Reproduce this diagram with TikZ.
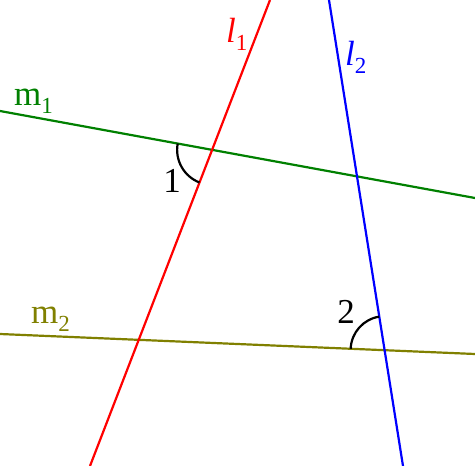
\documentclass[tikz,border=0pt]{standalone}
\usepackage{fontspec}
\setmainfont{Liberation Serif}
\usetikzlibrary{intersections}
\definecolor{mgreen}{RGB}{0,128,0}
\definecolor{molive}{RGB}{128,128,0}
\tikzset{
  ln/.style={line width=2.2pt},
  ang/.style={line width=2.2pt, black},
  lbl/.style={inner sep=0pt, anchor=base west, font=\fontsize{35}{38}\selectfont},
  num/.style={inner sep=0pt, anchor=base, font=\fontsize{35}{38}\selectfont},
}
\newcommand{\sbs}[1]{\raisebox{-8pt}{\fontsize{23}{25}\selectfont #1}}
\begin{document}
\begin{tikzpicture}[x=1pt,y=-1pt]
\useasboundingbox (0,0) rectangle (475,466);
\coordinate (l1a) at (270,0);
\coordinate (l1b) at (90,466);
\coordinate (l2a) at (329,0);
\coordinate (l2b) at (403,466);
\coordinate (m1a) at (0,111);
\coordinate (m1b) at (475,198);
\coordinate (m2a) at (0,334);
\coordinate (m2b) at (475,354);
\draw[ln, mgreen, name path=m1] (m1a) -- (m1b);
\draw[ln, molive, name path=m2] (m2a) -- (m2b);
\draw[ln, red, name path=l1] (l1a) -- (l1b);
\draw[ln, blue, name path=l2] (l2a) -- (l2b);
\path[name intersections={of=m1 and l1, by=P1}];
\path[name intersections={of=m2 and l2, by=P2}];
\draw[ang] ([shift={(-169.6:35)}]P1) arc[start angle=-169.6, end angle=-248.9, radius=35];
\draw[ang] ([shift={(-99:34)}]P2) arc[start angle=-99, end angle=-177.6, radius=34];
\node[num] (n1) at (172,192) {1};
\node[num] (n2) at (346,323) {2};
\node[lbl, mgreen] (tm1) at (14,105) {m\sbs{1}};
\node[lbl, molive] (tm2) at (31,323) {m\sbs{2}};
\node[lbl, red] (tl1) at (226,42) {\textit{l}\sbs{1}};
\node[lbl, blue] (tl2) at (345,65) {\textit{l}\sbs{2}};
\end{tikzpicture}
\end{document}
